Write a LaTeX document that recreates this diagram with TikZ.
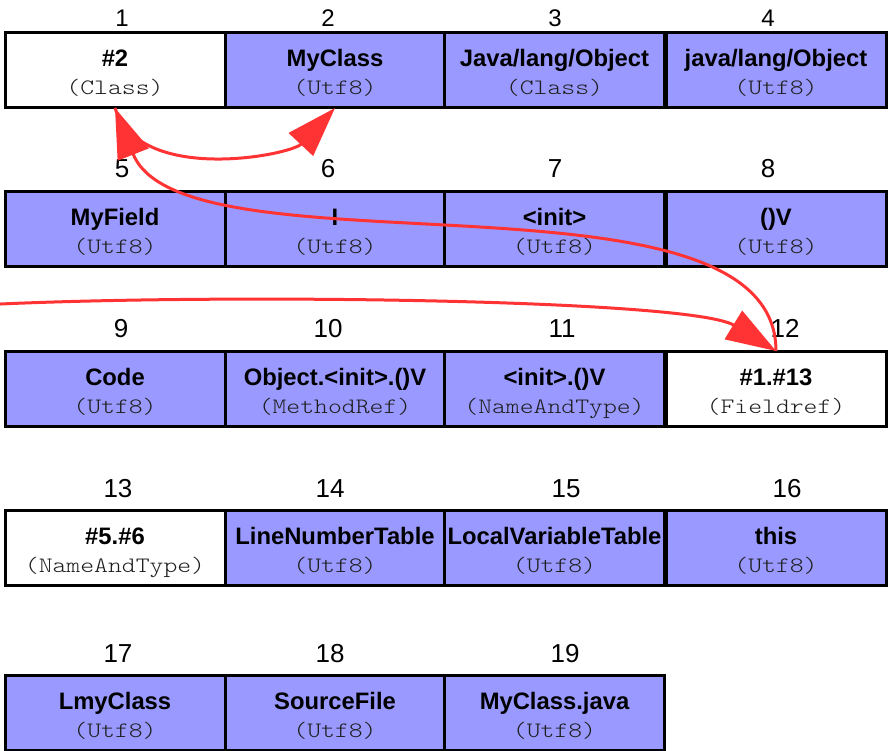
\documentclass[tikz,border=0pt]{standalone}
\usepackage{fontspec}
\setmainfont{Liberation Sans}
\newfontfamily\kindfont{Latin Modern Mono Light}[FakeStretch=1.2]
\usetikzlibrary{arrows.meta}

\definecolor{utfblue}{RGB}{153,153,255}
\definecolor{refred}{RGB}{255,51,51}
\definecolor{kindgray}{RGB}{30,30,30}

% smaller index numbers of the first row
\newcommand\toprowidx[1]{{\fontsize{24}{28}\selectfont #1}}

% one constant-pool slot: name, centre x, top y, fill, value, kind, index, index x, index baseline y
\newcommand\cpslot[9]{%
  \node[slotbox, fill=#4] (#1) at (#2, #3+37.5) {};
  \node[valuetext] (#1val) at (#2, #3+34) {#5};
  \node[kindtext] (#1kind) at (#2, #3+62) {#6};
  \node[indextext] (#1idx) at (#8, #9) {#7};
}

\begin{document}
\begin{tikzpicture}[x=1pt, y=-1pt,
  slotbox/.style={draw=black, line width=3pt, rectangle, inner sep=0pt, outer sep=0pt,
    minimum width=220pt, minimum height=75pt},
  valuetext/.style={anchor=base, inner sep=0pt, font=\fontsize{23.8}{28}\selectfont\bfseries},
  kindtext/.style={anchor=base, inner sep=0pt, text=kindgray, font=\fontsize{22}{26}\selectfont\kindfont},
  indextext/.style={anchor=base, inner sep=0pt, font=\fontsize{26}{30}\selectfont},
  ref/.style={draw=refred, line width=3pt, -{Triangle[length=50pt, width=33pt]}}]

\useasboundingbox (0,0) rectangle (891,751);

% row 1
\cpslot{c1}{115}{33}{white}{\#2}{(Class)}{\toprowidx{1}}{122}{27}
\cpslot{c2}{335}{33}{utfblue}{MyClass}{(Utf8)}{\toprowidx{2}}{328}{27}
\cpslot{c3}{554.5}{33}{utfblue}{Java/lang/Object}{(Class)}{\toprowidx{3}}{555}{27}
\cpslot{c4}{776}{33}{utfblue}{java/lang/Object}{(Utf8)}{\toprowidx{4}}{768}{27}

% row 2
\cpslot{c5}{115}{192}{utfblue}{MyField}{(Utf8)}{5}{122}{178}
\cpslot{c6}{335}{192}{utfblue}{I}{(Utf8)}{6}{328}{178}
\cpslot{c7}{554.5}{192}{utfblue}{<init>}{(Utf8)}{7}{555}{178}
\cpslot{c8}{776}{192}{utfblue}{()V}{(Utf8)}{8}{768}{178}

% row 3
\cpslot{c9}{115}{351}{utfblue}{Code}{(Utf8)}{9}{121}{337}
\cpslot{c10}{335}{351}{utfblue}{Object.<init>.()V}{(MethodRef)}{10}{328}{337}
\cpslot{c11}{554.5}{351}{utfblue}{<init>.()V}{(NameAndType)}{11}{562}{337}
\cpslot{c12}{776}{351}{white}{\#1.\#13}{(Fieldref)}{12}{785}{337}

% row 4
\cpslot{c13}{115}{510}{white}{\#5.\#6}{(NameAndType)}{13}{118}{497}
\cpslot{c14}{335}{510}{utfblue}{LineNumberTable}{(Utf8)}{14}{330}{497}
\cpslot{c15}{554.5}{510}{utfblue}{LocalVariableTable}{(Utf8)}{15}{566}{497}
\cpslot{c16}{776}{510}{utfblue}{this}{(Utf8)}{16}{787}{497}

% row 5
\cpslot{c17}{115}{675}{utfblue}{LmyClass}{(Utf8)}{17}{118}{662}
\cpslot{c18}{335}{675}{utfblue}{SourceFile}{(Utf8)}{18}{330}{662}
\cpslot{c19}{554.5}{675}{utfblue}{MyClass.java}{(Utf8)}{19}{565}{662}

% references
\coordinate (incoming) at (-20,305);
\draw[ref] (incoming) .. controls +(230,-12) and +(-85,-52) .. (c12.north);
\draw[ref] (c12.north) .. controls +(0,-195) and +(68,172) .. (c1.south);
\draw[ref] (c1.south) .. controls +(25,77) and +(-44,47) .. (c2.south);

\end{tikzpicture}
\end{document}
